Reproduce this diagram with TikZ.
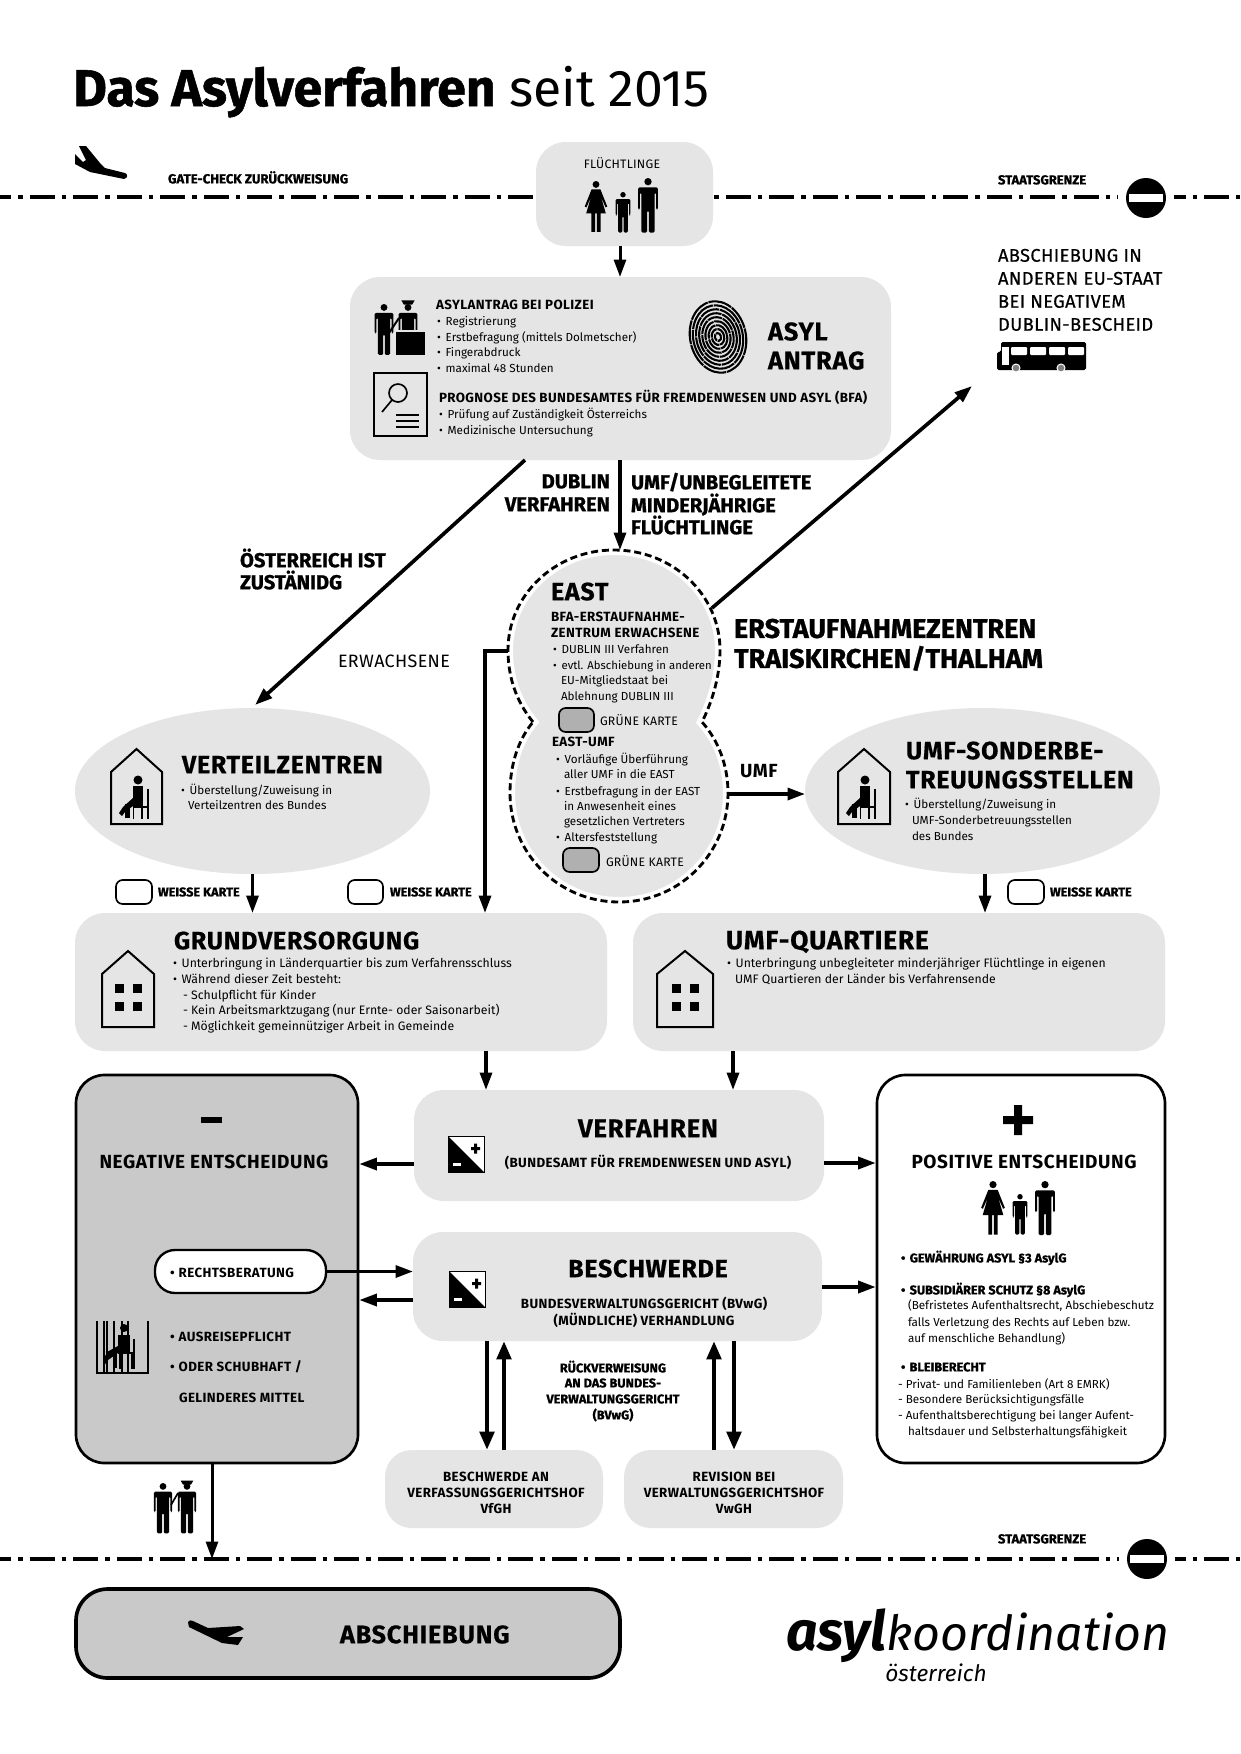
\documentclass[tikz,border=0pt]{standalone}
\usepackage{fontspec}
\usetikzlibrary{arrows.meta,fit,shapes.geometric}
\setmainfont{Fira Sans}
\newfontfamily\blk[BoldFeatures={FakeBold=1}]{Fira Sans}
\newfontfamily\bld[LetterSpace=3]{Fira Sans}
\newfontfamily\bldh[LetterSpace=3,BoldFeatures={FakeBold=0.5}]{Fira Sans}
\newfontfamily\reg[LetterSpace=2]{Fira Sans}
\newfontfamily\med[LetterSpace=2,FakeBold=0.5]{Fira Sans}
\definecolor{boxgrey}{gray}{0.898}
\definecolor{darkgrey}{gray}{0.79}
\definecolor{cardgrey}{gray}{0.69}
\newcommand\bu{\makebox[5.2pt][l]{•}}
\newcommand\iconMan[3]{\begin{scope}[shift={(#1,#2)},scale=#3]
 \fill (0,3.5) circle (3.5);
 \fill[rounded corners=0.8pt] (-9.5,9)--(9.5,9)--(9.5,30)--(7.7,30)--(7.7,14)--(6.2,14)--(6.2,52)--(0.8,52)--(0.8,31)--(-0.8,31)--(-0.8,52)--(-6.2,52)--(-6.2,14)--(-7.7,14)--(-7.7,30)--(-9.5,30)--cycle;
\end{scope}}
\newcommand\iconWoman[3]{\begin{scope}[shift={(#1,#2)},scale=#3]
 \fill (0,3.5) circle (3.5);
 \fill (-4.5,8.5)--(4.5,8.5)--(11.5,26)--(9.8,27)--(5,16)--(10,33)--(4.6,33)--(4.6,52)--(0.8,52)--(0.8,33)--(-0.8,33)--(-0.8,52)--(-4.6,52)--(-4.6,33)--(-10,33)--(-5,16)--(-9.8,27)--(-11.5,26)--cycle;
\end{scope}}
\newcommand\iconCap[3]{\begin{scope}[shift={(#1,#2)},scale=#3]
 \fill (-6,-3.2)--(6,-3.2)--(3.8,0.5)--(-3.8,0.5)--cycle;
\end{scope}}
\newcommand\iconHouse[5]{\draw[line width=1.2pt,line join=miter] (#1,#5)--(#1,#4)--({(#1+#2)/2},#3)--(#2,#4)--(#2,#5)--cycle;}
\newcommand\iconWin[2]{\foreach \wx in {0,18}{\foreach \wy in {0,18}{\fill ({#1+\wx},{#2+\wy}) rectangle +(9,9);}}}
\newcommand\iconSit[2]{\begin{scope}[shift={(#1,#2)}]
 \fill (0,0) circle (4.5);
 \fill (-5,6) rectangle (5,27);
 \draw[line width=1pt] (10,9)--(10,39) (-5,27)--(10,27) (-4.5,27)--(-4.5,39) (4,27)--(4,39);
 \fill (-5,18)--(-5,26)--(-13,32)--(-16,36)--(-19,33)--(-15,27)--cycle;
 \fill (-13,24) rectangle (-8,38);
\end{scope}}
\newcommand\iconPM[2]{\begin{scope}[shift={(#1,#2)}]
 \draw[fill=white,line width=0.4pt] (0,0) rectangle (36,36);
 \fill (0,0)--(36,36)--(0,36)--cycle;
 \fill (23,11) rectangle (32,14) (26,7.5) rectangle (29,17.5);
 \fill[white] (5,27) rectangle (13,30);
\end{scope}}
\newcommand\iconSign[2]{\node[circle,fill=white,inner sep=0pt,minimum size=33.6pt] (#1halo) at #2 {};
 \node[circle,fill=black,inner sep=0pt,minimum size=24pt] (#1) at #2 {};
 \fill[white] ([xshift=-10pt,yshift=-2.2pt]#1.center) rectangle ([xshift=10pt,yshift=2.2pt]#1.center);}
\tikzset{
 gbox/.style={rectangle,rounded corners=18pt,fill=boxgrey,inner sep=0pt,outer sep=0pt},
 gov/.style={ellipse,fill=boxgrey,inner sep=0pt,outer sep=0pt,minimum width=213pt,minimum height=99.6pt},
 decbox/.style={rectangle,rounded corners=17pt,draw=black,line width=1.6pt,inner sep=0pt,outer sep=0.8pt},
 pill/.style={rectangle,rounded corners=12pt,draw=black,fill=white,line width=1.4pt,inner sep=0pt,outer sep=0.7pt},
 card/.style={rectangle,rounded corners=4pt,draw=black,line width=1pt,inner sep=0pt},
 border/.style={line width=2.7pt,dash pattern=on 15pt off 4.2pt on 2.7pt off 4.2pt,dash phase=8.2pt},
 arr/.style={line width=2pt,-{Triangle[length=10.5pt,width=7.2pt]}},
 arrb/.style={line width=2.7pt,-{Triangle[length=11pt,width=8.5pt]}},
 tx/.style={inner sep=0pt,outer sep=0pt,anchor=mid west},
 bt/.style={tx,font=\fontsize{7}{8}\selectfont},
 btw/.style={tx,font=\fontsize{7.35}{8}\selectfont},
 hs/.style={tx,font=\fontsize{8}{9}\bld\bfseries},
 hsc/.style={hs,anchor=mid},
 hv/.style={tx,font=\fontsize{7.6}{9}\blk\bfseries},
 hvc/.style={hv,anchor=mid},
 hm/.style={tx,yshift=-1.3pt,font=\fontsize{11.4}{13}\bld\bfseries},
 hl/.style={tx,yshift=-2.3pt,font=\fontsize{15}{17}\bldh\bfseries},
 hk/.style={tx,yshift=-1.1pt,font=\fontsize{12.1}{14}\blk\bfseries},
 hxl/.style={tx,yshift=-3.3pt,font=\fontsize{16.2}{18}\blk\bfseries},
 lt/.style={tx,yshift=-0.8pt,font=\fontsize{11}{13}\med},
 sm/.style={tx,yshift=-0.3pt,font=\fontsize{7.35}{9}\reg},
}
\begin{document}
\begin{tikzpicture}[x=0.6pt,y=-0.6pt,line cap=butt]
\useasboundingbox (0,0) rectangle (1240,1754);
\fill[white] (0,0) rectangle (1240,1754);
% title
\node[inner sep=0pt,anchor=base west] (title) at (73,106) {\fontsize{31}{34}\selectfont{\blk\bfseries Das Asylverfahren} seit 2015};
% borders
\coordinate (b1l) at (0,197); \coordinate (b1r) at (1240,197);
\coordinate (b2l) at (0,1559); \coordinate (b2r) at (1240,1559);
\draw[border] (b1l)--(b1r);
\draw[border] (b2l)--(b2r);
\iconSign{signa}{(1146,198)}
\iconSign{signb}{(1147,1559)}
\node[hv,font=\fontsize{7.9}{9}\blk\bfseries] (gate) at (168,179) {GATE-CHECK ZURÜCKWEISUNG};
\node[hv,font=\fontsize{7.8}{9}\blk\bfseries] (st1) at (998,180) {STAATSGRENZE};
\node[hv,font=\fontsize{7.8}{9}\blk\bfseries] (st2) at (998,1539) {STAATSGRENZE};
% plane top
\fill (79,146)--(86,146)--(100,163)--(105,168)--(125,173)..controls (128,174) and (128,178) .. (124,179)--(90,172)--(75,164)--(75,154)--(83,162)--(86,160)--cycle;
% boxes
\node[gbox,fit={(536,142)(713,246)}] (flucht) {};
\node[gbox,fit={(350,277)(891,460)}] (asyl) {};
\node[gov] (vert) at (252.5,791) {};
\node[gov] (umf) at (982.5,791) {};
\node[gbox,fit={(75,913)(607,1051)}] (grund) {};
\node[gbox,fit={(633,913)(1165,1051)}] (quart) {};
\node[gbox,fit={(414,1090)(824,1201)}] (verf) {};
\node[gbox,fit={(413,1232)(822,1341)}] (besch) {};
\node[gbox,rounded corners=16pt,fit={(385,1450)(603,1528)}] (vfgh) {};
\node[gbox,rounded corners=16pt,fit={(624,1450)(843,1528)}] (vwgh) {};
\node[decbox,fill=darkgrey,fit={(76,1075)(358,1463)}] (neg) {};
\node[decbox,fill=white,fit={(877,1075)(1165,1463)}] (pos) {};
\node[pill,fit={(155,1250)(326,1293)}] (recht) {};
\node[decbox,fill=darkgrey,line width=2.2pt,rounded corners=19pt,fit={(76,1589)(620,1678)}] (absch) {};
% EAST shape
\def\eastpath{(533,722) .. controls (515,700) and (508,675) .. (508,650) .. controls (508,595) and (555,550) .. (614,550) .. controls (673,550) and (720,595) .. (720,650) .. controls (720,675) and (713,700) .. (702,722) .. controls (718,740) and (728,765) .. (728,793) .. controls (728,853) and (680,902) .. (619,902) .. controls (558,902) and (510,853) .. (510,793) .. controls (510,765) and (518,740) .. (533,722) -- cycle}
\path[fill=boxgrey,draw=white,line width=6pt] \eastpath;
\draw[line width=1.7pt,dash pattern=on 4.2pt off 2.3pt] \eastpath;
\coordinate (eTop) at (620,550); \coordinate (eLeft) at (508,651); \coordinate (eRight) at (728,794); \coordinate (eNE) at (712,608);
\coordinate (busEnd) at (972,386); \coordinate (corner) at (485,651);
% connectors
\draw[arr,line width=1.8pt] (620,0 |- flucht.south)--(620,0 |- asyl.north);
\draw[arr,line width=2pt] (620,0 |- asyl.south)--(eTop);
\draw[arr,line width=2.2pt] (525,0 |- asyl.south)--(255,705);
\draw[arr,line width=2.2pt] (eNE)--(busEnd);
\draw[arr] (eLeft)--(corner)--(corner |- grund.north);
\draw[arr] (eRight)--(eRight -| umf.west);
\draw[arr] (vert.south)--(vert.south |- grund.north);
\draw[arr] (985,0 |- umf.south)--(985,0 |- quart.north);
\draw[arr] (486,0 |- grund.south)--(486,0 |- verf.north);
\draw[arr] (733,0 |- quart.south)--(733,0 |- verf.north);
\draw[arr] (verf.west |- 0,1164)--(neg.east |- 0,1164);
\draw[arr] (verf.east |- 0,1163)--(pos.west |- 0,1163);
\draw[arr] (recht.east)--(recht.east -| besch.west);
\draw[arr] (besch.west |- 0,1300)--(neg.east |- 0,1300);
\draw[arr] (besch.east |- 0,1287)--(pos.west |- 0,1287);
\draw[arrb] (487,0 |- besch.south)--(487,0 |- vfgh.north);
\draw[arrb] (504,0 |- vfgh.north)--(504,0 |- besch.south);
\draw[arrb] (714,0 |- vwgh.north)--(714,0 |- besch.south);
\draw[arrb] (734,0 |- besch.south)--(734,0 |- vwgh.north);
\draw[arr,line width=1.8pt] (212,0 |- neg.south)--(212,0 |- b2l);
% flüchtlinge
\node[sm,anchor=mid] (ftxt) at (622,164) {FLÜCHTLINGE};
\iconWoman{596}{181}{0.98}
\iconMan{623}{192}{0.78}
\iconMan{648}{178}{1.05}
% asyl box
\iconMan{384}{304}{0.98}
\iconMan{408}{304}{0.98}
\iconCap{408}{304}{1.1}
\draw[line width=1.2pt] (399,318)--(389,333);
\draw[boxgrey,line width=0.8pt,fill=black] (395,331) rectangle (426,356);
\node[hs] (a1) at (436,305) {ASYLANTRAG BEI POLIZEI};
\node[bt] (a2) at (437,321) {\bu Registrierung};
\node[bt] (a3) at (437,337) {\bu Erstbefragung (mittels Dolmetscher)};
\node[bt] (a4) at (437,352) {\bu Fingerabdruck};
\node[bt] (a5) at (437,368) {\bu maximal 48 Stunden};
\draw[line width=1pt] (374,373) rectangle (427,436);
\draw[line width=1pt] (398,393) circle (9) (392,400)--(382,412);
\draw[line width=0.9pt] (396,415)--(419,415) (396,421)--(419,421) (396,427)--(419,427);
\node[hs] (a6) at (439,398) {PROGNOSE DES BUNDESAMTES FÜR FREMDENWESEN UND ASYL (BFA)};
\node[bt] (a7) at (439,414) {\bu Prüfung auf Zuständigkeit Österreichs};
\node[bt] (a8) at (439,430) {\bu Medizinische Untersuchung};
\foreach \k/\d in {1/1,2/1.6,3/2.4,4/3.2,5/2.2,6/4,7/3,8/5,9/3.6}{
 \pgfmathsetmacro\rx{3.1*\k}\pgfmathsetmacro\ry{4*\k}
 \draw[line width=1.25pt,dash pattern=on {\d*4pt} off 0.5pt,rotate around={12:(718,337)}] (718,337) ellipse [x radius=\rx,y radius=\ry];
}
\node[hk,font=\fontsize{15.3}{17}\bldh\bfseries,yshift=-0.7pt] (a9) at (768,333) {ASYL};
\node[hk,font=\fontsize{15.3}{17}\bldh\bfseries,yshift=-0.7pt] (a10) at (768,362) {ANTRAG};
% right-hand text
\node[lt] (r1) at (998,256) {ABSCHIEBUNG IN};
\node[lt] (r2) at (998,279) {ANDEREN EU-STAAT};
\node[lt] (r3) at (998,302) {BEI NEGATIVEM};
\node[lt] (r4) at (998,325) {DUBLIN-BESCHEID};
% bus
\fill[rounded corners=1pt] (1001,342)--(1086,342)--(1086,370)--(997,370)--(997,352)--(1001,352)--cycle;
\fill[white] (1002,347) rectangle (1009,365);
\foreach \wx in {1011,1030,1049,1068}{\fill[white,rounded corners=0.6pt] (\wx,347) rectangle +(16,8);}
\foreach \wx in {1016,1061}{\draw[white,line width=0.6pt,fill=gray] (\wx,368) circle (4);}
% arrows labels
\node[hk,anchor=mid east] (l1) at (610,482) {DUBLIN};
\node[hk,anchor=mid east] (l2) at (610,505) {VERFAHREN};
\node[hk] (l3) at (631,483) {UMF/UNBEGLEITETE};
\node[hk] (l4) at (631,506) {MINDERJÄHRIGE};
\node[hk] (l5) at (631,528) {FLÜCHTLINGE};
\node[hk] (l6) at (240,561) {ÖSTERREICH IST};
\node[hk] (l7) at (240,583) {ZUSTÄNIDG};
\node[tx,yshift=-0.6pt,font=\fontsize{10.75}{12}\reg] (l8) at (338,662) {ERWACHSENE};
\node[hxl] (l9) at (734,628) {ERSTAUFNAHMEZENTREN};
\node[hxl] (l10) at (734,658) {TRAISKIRCHEN/THALHAM};
\node[hm] (l11) at (740,771) {UMF};
% EAST
\node[hl] (e1) at (551,592) {EAST};
\node[hs] (e2) at (551,617) {BFA-ERSTAUFNAHME-};
\node[hs] (e3) at (551,633) {ZENTRUM ERWACHSENE};
\node[bt] (e4) at (553,649) {\bu DUBLIN III Verfahren};
\node[bt,font=\fontsize{6.8}{8}\selectfont] (e5) at (553,665) {\bu evtl. Abschiebung in anderen};
\node[bt] (e6) at (561,680) {EU-Mitgliedstaat bei};
\node[bt] (e7) at (561,696) {Ablehnung DUBLIN III};
\node[card,fill=cardgrey,fit={(559,708)(594,732)}] (c1) {};
\node[sm] (e8) at (600,721) {GRÜNE KARTE};
\node[hs] (e9) at (552,742) {EAST-UMF};
\node[bt] (e10) at (556,759) {\bu Vorläufige Überführung};
\node[bt] (e11) at (564,774) {aller UMF in die EAST};
\node[bt] (e12) at (556,791) {\bu Erstbefragung in der EAST};
\node[bt] (e13) at (564,806) {in Anwesenheit eines};
\node[bt] (e14) at (564,821) {gesetzlichen Vertreters};
\node[bt] (e15) at (556,837) {\bu Altersfeststellung};
\node[card,fill=cardgrey,fit={(563,848)(599,872)}] (c2) {};
\node[sm] (e16) at (606,862) {GRÜNE KARTE};
% Verteilzentren
\iconHouse{111}{162}{749}{772}{824}
\iconSit{138}{780}
\node[hl] (v1) at (182,765) {VERTEILZENTREN};
\node[bt] (v2) at (181,790) {\bu Überstellung/Zuweisung in};
\node[bt] (v3) at (188,805) {Verteilzentren des Bundes};
% UMF
\iconHouse{838}{890}{749}{772}{824}
\iconSit{865}{780}
\node[hl] (u1) at (906,751) {UMF-SONDERBE-};
\node[hl] (u2) at (906,780) {TREUUNGSSTELLEN};
\node[bt] (u3) at (905,804) {\bu Überstellung/Zuweisung in};
\node[bt] (u4) at (912,820) {UMF-Sonderbetreuungsstellen};
\node[bt] (u5) at (912,836) {des Bundes};
% weisse karte
\node[card,fit={(116,880)(152,904)}] (w1) {};
\node[hv] (w2) at (158,892) {WEISSE KARTE};
\node[card,fit={(348,880)(383,904)}] (w3) {};
\node[hv] (w4) at (390,892) {WEISSE KARTE};
\node[card,fit={(1008,880)(1044,904)}] (w5) {};
\node[hv] (w6) at (1050,892) {WEISSE KARTE};
% Grundversorgung
\iconHouse{102}{154}{951}{974}{1027}
\iconWin{115}{984}
\node[hl] (g1) at (174,941) {GRUNDVERSORGUNG};
\node[btw] (g2) at (173,963) {\bu Unterbringung in Länderquartier bis zum Verfahrensschluss};
\node[btw] (g3) at (173,979) {\bu Während dieser Zeit besteht:};
\node[btw] (g4) at (183,995) {- Schulpflicht für Kinder};
\node[btw] (g5) at (183,1010) {- Kein Arbeitsmarktzugang (nur Ernte- oder Saisonarbeit)};
\node[btw] (g6) at (183,1026) {- Möglichkeit gemeinnütziger Arbeit in Gemeinde};
% Quartiere
\iconHouse{657}{713}{951}{974}{1027}
\iconWin{672}{984}
\node[hl,font=\fontsize{15.8}{18}\bldh\bfseries] (q1) at (726,941) {UMF-QUARTIERE};
\node[btw] (q2) at (727,963) {\bu Unterbringung unbegleiteter minderjähriger Flüchtlinge in eigenen};
\node[btw] (q3) at (735,979) {UMF Quartieren der Länder bis Verfahrensende};
% Negative
\fill (201,1117) rectangle (222,1123);
\node[hm,anchor=mid] (n1) at (214,1162) {NEGATIVE ENTSCHEIDUNG};
\node[hs] (n2) at (170,1273) {\bu RECHTSBERATUNG};
\node[hs] (n3) at (170,1337) {\bu AUSREISEPFLICHT};
\node[hs] (n4) at (170,1367) {\bu ODER SCHUBHAFT /};
\node[hs] (n5) at (179,1398) {GELINDERES MITTEL};
\draw[line width=1pt] (97,1321)--(97,1373)--(148,1373)--(148,1321);
\foreach \bx in {104,107,114,122,128}{\draw[line width=0.7pt] (\bx,1321)--(\bx,1373);}
\fill (124,1328) circle (4);
\fill (118,1335) rectangle (130,1353);
\fill (118,1346)--(118,1353)--(108,1360)--(106,1364)--(103,1361)--(107,1352)--cycle;
\fill (113,1350) rectangle (117,1368);
\draw[line width=0.9pt] (134,1339)--(134,1369) (118,1353)--(134,1353) (120,1353)--(120,1369) (132,1353)--(132,1369);
% police pair
\iconMan{163}{1483}{0.97}
\iconMan{187}{1483}{0.97}
\iconCap{187}{1484}{1.05}
\draw[line width=1pt] (178,1493)--(171,1505);
% Verfahren
\iconPM{448}{1136}
\node[hl,anchor=mid,font=\fontsize{15.4}{17}\bldh\bfseries] (f1) at (648,1129) {VERFAHREN};
\node[hs,anchor=mid] (f2) at (648,1163) {(BUNDESAMT FÜR FREMDENWESEN UND ASYL)};
\iconPM{449}{1271}
\node[hl,anchor=mid] (s1) at (648,1269) {BESCHWERDE};
\node[hs,anchor=mid] (s2) at (644,1304) {BUNDESVERWALTUNGSGERICHT (BVwG)};
\node[hs,anchor=mid] (s3) at (644,1321) {(MÜNDLICHE) VERHANDLUNG};
\node[hvc] (k1) at (613,1368) {RÜCKVERWEISUNG};
\node[hvc] (k2) at (613,1383) {AN DAS BUNDES-};
\node[hvc] (k3) at (613,1399) {VERWALTUNGSGERICHT};
\node[hvc] (k4) at (613,1415) {(BVwG)};
\node[hsc] (h1) at (496,1477) {BESCHWERDE AN};
\node[hsc] (h2) at (496,1493) {VERFASSUNGSGERICHTSHOF};
\node[hsc] (h3) at (496,1509) {VfGH};
\node[hsc] (h4) at (734,1477) {REVISION BEI};
\node[hsc] (h5) at (734,1493) {VERWALTUNGSGERICHTSHOF};
\node[hsc] (h6) at (734,1509) {VwGH};
% Positive
\fill (1003,1116) rectangle (1033,1124) (1014,1105) rectangle (1022,1135);
\node[hm,anchor=mid] (p1) at (1024,1162) {POSITIVE ENTSCHEIDUNG};
\iconWoman{993}{1181}{1.03}
\iconMan{1020}{1194}{0.78}
\iconMan{1045}{1181}{1.04}
\node[hv] (p2) at (901,1258) {\bu GEWÄHRUNG ASYL §3 AsylG};
\node[hv] (p3) at (901,1290) {\bu SUBSIDIÄRER SCHUTZ §8 AsylG};
\node[bt] (p4) at (908,1305) {(Befristetes Aufenthaltsrecht, Abschiebeschutz};
\node[bt] (p5) at (908,1322) {falls Verletzung des Rechts auf Leben bzw.};
\node[bt] (p6) at (908,1338) {auf menschliche Behandlung)};
\node[hv] (p7) at (901,1367) {\bu BLEIBERECHT};
\node[bt] (p8) at (898,1384) {- Privat- und Familienleben (Art 8 EMRK)};
\node[bt] (p9) at (898,1399) {- Besondere Berücksichtigungsfälle};
\node[bt] (p10) at (898,1415) {- Aufenthaltsberechtigung bei langer Aufent-};
\node[bt] (p11) at (908,1431) {haltsdauer und Selbsterhaltungsfähigkeit};
% Abschiebung
\fill (188,1622)..controls (189,1620) and (191,1620) .. (193,1621)--(208,1628)--(240,1626)--(244,1629)--(227,1637)--(243,1637)--(238,1645)--(222,1643)--(189,1627)--cycle;
\node[hl,font=\fontsize{15.2}{17}\bldh\bfseries] (x1) at (340,1635) {ABSCHIEBUNG};
% logo
\node[inner sep=0pt,anchor=base west] (logo) at (786,1650) {\itshape{\fontsize{33}{34}\selectfont\blk\bfseries asyl}{\fontsize{29}{34}\selectfont koordination}};
\node[inner sep=0pt,anchor=base west] (logo2) at (885,1681) {\fontsize{13.6}{16}\selectfont\itshape österreich};
\end{tikzpicture}
\end{document}
